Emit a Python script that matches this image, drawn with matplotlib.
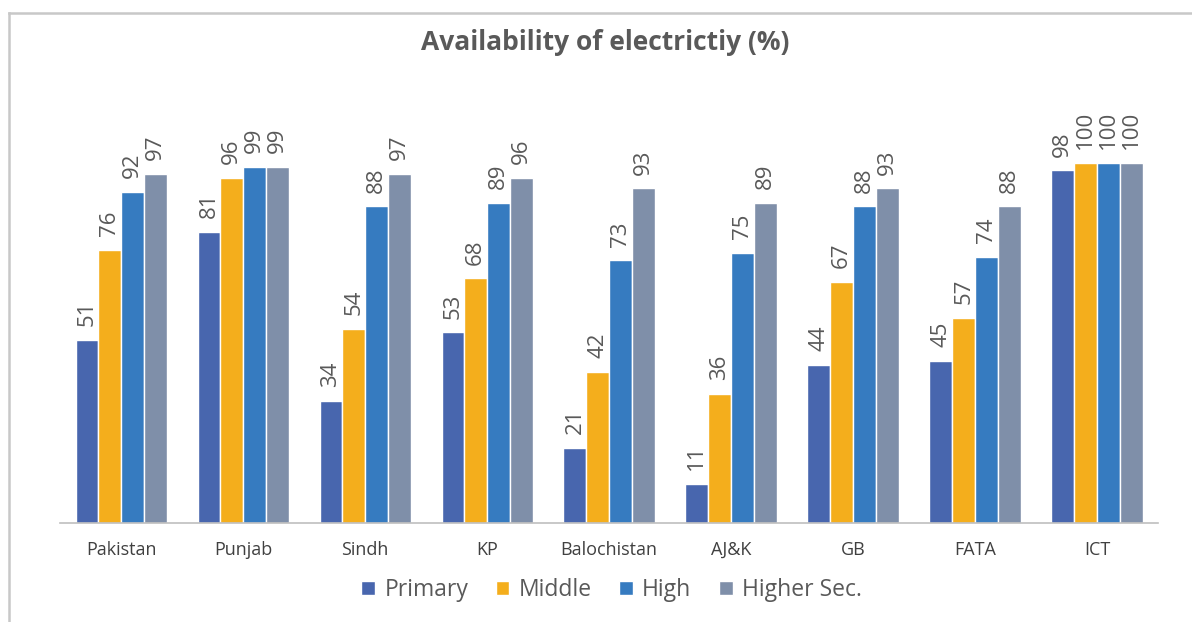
import matplotlib.pyplot as plt
import numpy as np

plt.rcParams['font.family'] = ['Open Sans', 'DejaVu Sans']

# Data
regions = ["Pakistan", "Punjab", "Sindh", "KP", "Balochistan", "AJ&K", "GB", "FATA", "ICT"]
primary = [51, 81, 34, 53, 21, 11, 44, 45, 98]
middle = [76, 96, 54, 68, 42, 36, 67, 57, 100]
high = [92, 99, 88, 89, 73, 75, 88, 74, 100]
higher_sec = [97, 99, 97, 96, 93, 89, 93, 88, 100]

series = [("Primary", primary, "#4866ae"),
          ("Middle", middle, "#f4ae1c"),
          ("High", high, "#367bc0"),
          ("Higher Sec.", higher_sec, "#7f8fa9")]

fig = plt.figure(figsize=(11.92, 6.22), dpi=100)
ax = fig.add_axes([0.0505, 0.159, 0.921, 0.680])

x = np.arange(len(regions))
step = 0.187
width = 0.187
for i, (name, vals, col) in enumerate(series):
    pos = x + (i - 1.5) * step
    bars = ax.bar(pos, vals, width, color=col, edgecolor="white", linewidth=1, label=name)
    for b, v in zip(bars, vals):
        ax.text(b.get_x() + b.get_width() / 2, v + 3.8, str(v), rotation=90,
                ha="center", va="bottom", fontsize=16, color="#595959")

ax.set_xlim(-0.5, 8.5)
ax.set_ylim(0, 117.5)
ax.set_xticks(x)
ax.set_xticklabels(regions, fontsize=13, color="#404040")
ax.tick_params(axis="x", length=0, pad=13)
ax.set_yticks([])
for s in ["top", "right", "left"]:
    ax.spines[s].set_visible(False)
ax.spines["bottom"].set_color("#bfbfbf")
ax.spines["bottom"].set_linewidth(1.2)

fig.text(0.508, 0.932, "Availability of electrictiy (%)", ha="center", va="center",
         fontsize=19, fontweight="bold", color="#595959")

fig.legend(loc="center", bbox_to_anchor=(0.513, 0.051), ncol=4, frameon=False,
           fontsize=16.5, handlelength=0.6, handleheight=0.6, columnspacing=1.2,
           handletextpad=0.4, labelcolor="#595959")

# outer chart border (top and left edges visible)
fig.add_artist(plt.Line2D([9 / 1192, 1], [1 - 13 / 622, 1 - 13 / 622],
                          transform=fig.transFigure, color="#c8c8c8", linewidth=1.8))
fig.add_artist(plt.Line2D([9 / 1192, 9 / 1192], [0, 1 - 13 / 622],
                          transform=fig.transFigure, color="#c8c8c8", linewidth=1.8))

fig.savefig("out.png", dpi=100)
